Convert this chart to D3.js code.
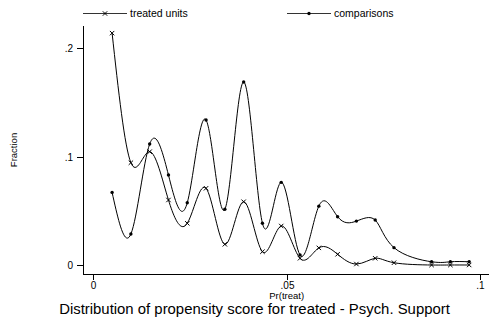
<!DOCTYPE html>
<html>
<head>
<meta charset="utf-8">
<script src="https://cdn.jsdelivr.net/npm/d3@7"></script>
<style>
  body { margin: 0; background: #fff; }
  svg { display: block; font-family: "Liberation Sans", Arial, sans-serif; }
</style>
</head>
<body>
<svg id="chart" width="489" height="325"></svg>
<script>
// bin midpoints (Pr(treat)) and fractions
var binX = [0.00486, 0.00972, 0.01458, 0.01944, 0.0243, 0.02916, 0.03402, 0.03888, 0.04374, 0.0486,
            0.05346, 0.05832, 0.06318, 0.06804, 0.0729, 0.07776, 0.08262, 0.08748, 0.09234, 0.0972];
var treated = [0.214, 0.0944, 0.1046, 0.060, 0.0385, 0.0708, 0.0191, 0.0584, 0.0123, 0.036,
               0.0062, 0.0158, 0.0099, 0.0009, 0.0062, 0.0021, null, 0.0, 0.0, 0.0];
var comparisons = [0.067, 0.0286, 0.1117, 0.083, 0.0575, 0.1338, 0.0514, 0.1689, 0.0385, 0.0763,
                   0.0092, 0.0543, 0.0446, 0.0405, 0.0415, 0.016, null, 0.003, 0.003, 0.003];
var xTicks = [0, 0.05, 0.1];
var yTicks = [0, 0.1, 0.2];
var seriesNames = ["treated units", "comparisons"];

var svg = d3.select("#chart");

var x = d3.scaleLinear().domain([0, 0.1]).range([93.3, 480]);
var y = d3.scaleLinear().domain([0, 0.2]).range([265, 48.3]);

var fmt = function(d) { return d === 0 ? "0" : String(d).replace(/^0/, ""); };

// axes lines
svg.append("line").attr("x1", 83.5).attr("x2", 83.5).attr("y1", 26).attr("y2", 274.5)
  .attr("stroke", "#000").attr("stroke-width", 1);
svg.append("line").attr("x1", 83).attr("x2", 489).attr("y1", 274.5).attr("y2", 274.5)
  .attr("stroke", "#000").attr("stroke-width", 1);

// y ticks
yTicks.forEach(function(t) {
  var yy = Math.round(y(t)) + 0.5;
  svg.append("line").attr("x1", 77).attr("x2", 83).attr("y1", yy).attr("y2", yy)
    .attr("stroke", "#000");
  svg.append("text").attr("x", 73).attr("y", yy + 3.5)
    .attr("text-anchor", "end").attr("font-size", 10).text(fmt(t));
});

// x ticks
xTicks.forEach(function(t) {
  var xx = Math.round(x(t)) + 0.5;
  svg.append("line").attr("x1", xx).attr("x2", xx).attr("y1", 274).attr("y2", 280)
    .attr("stroke", "#000");
  svg.append("text").attr("x", xx).attr("y", 289)
    .attr("text-anchor", "middle").attr("font-size", 10).text(fmt(t));
});

svg.append("text").attr("x", x(0.05)).attr("y", 298.5)
  .attr("text-anchor", "middle").attr("font-size", 9.5).text("Pr(treat)");

svg.append("text").attr("transform", "translate(17,150) rotate(-90)")
  .attr("text-anchor", "middle").attr("font-size", 9.5).text("Fraction");

svg.append("text").attr("x", 254.5).attr("y", 314)
  .attr("text-anchor", "middle").attr("font-size", 14.9)
  .text("Distribution of propensity score for treated - Psych. Support");

function pts(vals) {
  return binX.map(function(d, i) { return [d, vals[i]]; })
    .filter(function(p) { return p[1] !== null; });
}

var line = d3.line()
  .x(function(d) { return x(d[0]); })
  .y(function(d) { return y(d[1]); })
  .curve(d3.curveNatural);

function cross(g, cx, cy) {
  var s = 2.2;
  g.append("path")
    .attr("d", "M" + (cx - s) + "," + (cy - s) + "L" + (cx + s) + "," + (cy + s) +
               "M" + (cx - s) + "," + (cy + s) + "L" + (cx + s) + "," + (cy - s))
    .attr("stroke", "#000").attr("stroke-width", 1).attr("fill", "none");
}

function dot(g, cx, cy) {
  g.append("circle").attr("cx", cx).attr("cy", cy).attr("r", 1.7).attr("fill", "#000");
}

var marks = [cross, dot];

[treated, comparisons].forEach(function(vals, si) {
  var data = pts(vals);
  var g = svg.append("g");
  g.append("path").datum(data).attr("d", line)
    .attr("fill", "none").attr("stroke", "#000").attr("stroke-width", 1);
  data.forEach(function(p) { marks[si](g, x(p[0]), y(p[1])); });
});

// legend
var legendPos = [83, 287];
seriesNames.forEach(function(name, i) {
  var lx = legendPos[i];
  var g = svg.append("g");
  g.append("line").attr("x1", lx).attr("x2", lx + 44).attr("y1", 13.5).attr("y2", 13.5)
    .attr("stroke", "#333").attr("stroke-width", 1);
  marks[i](g, lx + 22, 13.5);
  g.append("text").attr("x", lx + 47).attr("y", 17).attr("font-size", 10.5).text(name);
});
</script>
</body>
</html>
